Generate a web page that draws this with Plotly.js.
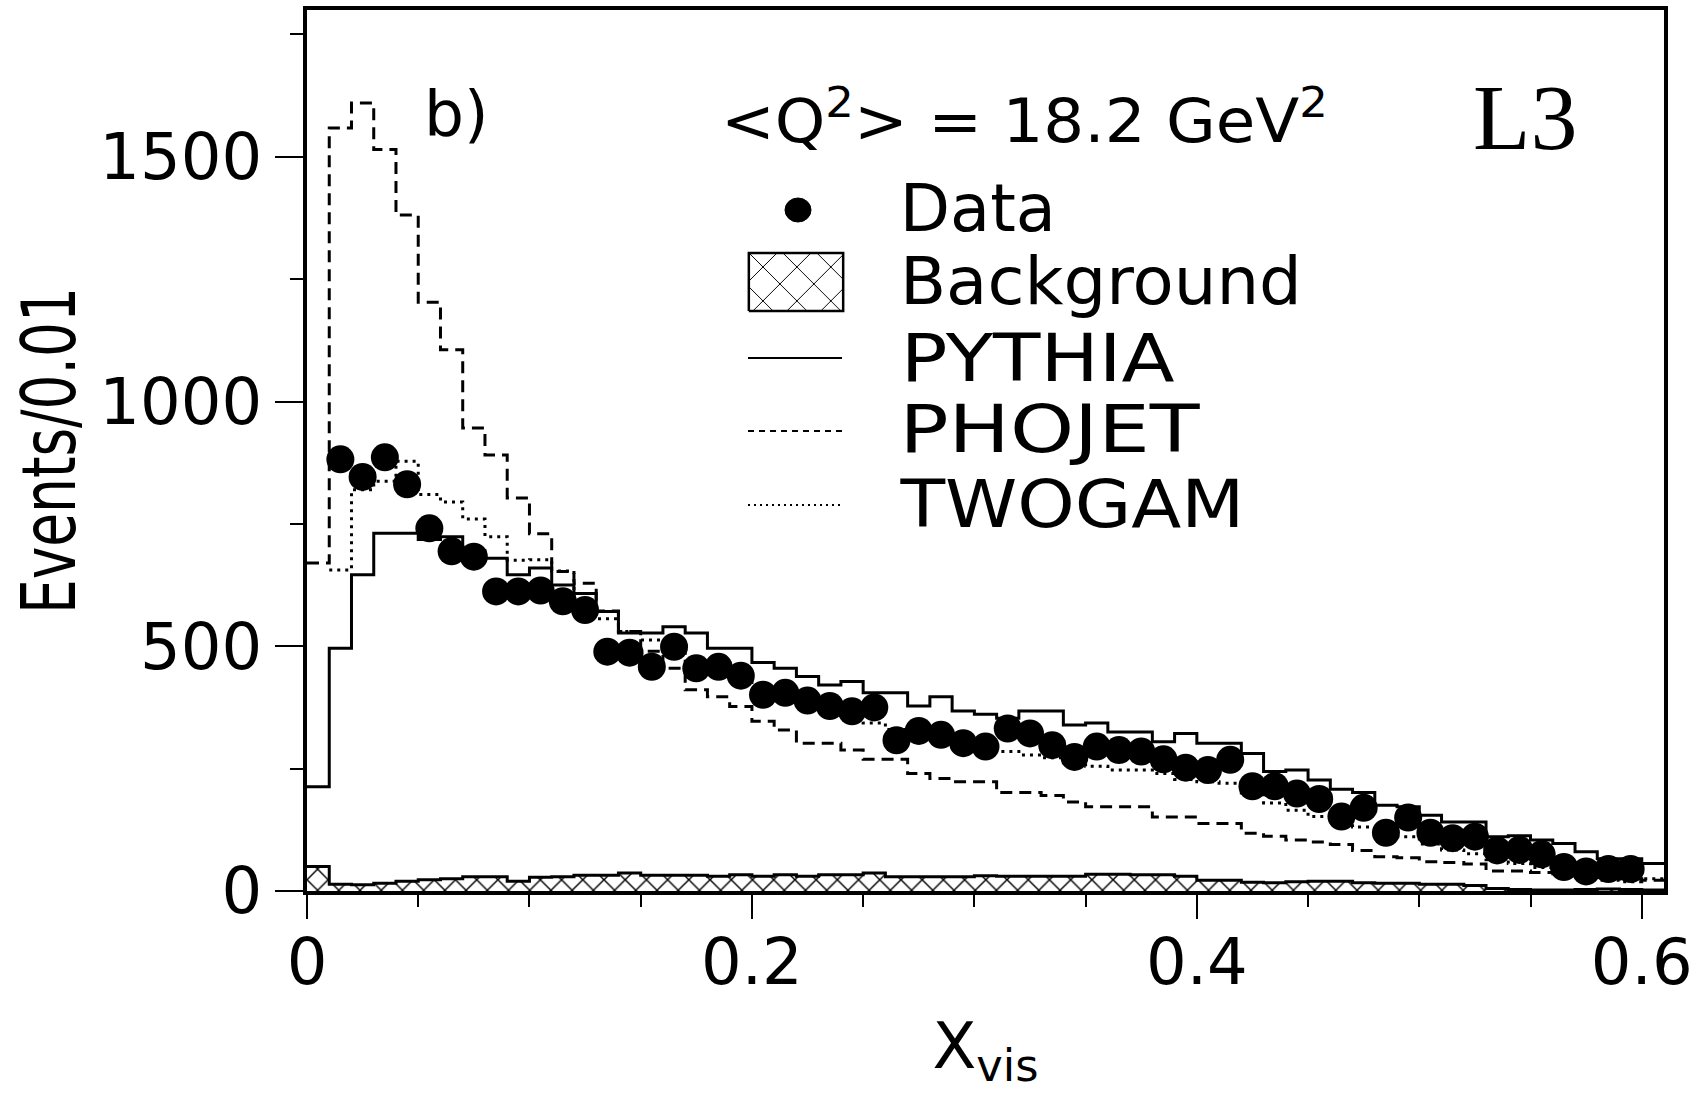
<!DOCTYPE html>
<html>
<head>
<meta charset="utf-8">
<script src="https://cdn.plot.ly/plotly-3.0.1.min.js"></script>
<style>
html,body{margin:0;padding:0;background:#fff;}
#chart{width:1700px;height:1093px;}
</style>
</head>
<body>
<div id="chart"></div>
<script>
// ---------- data (bins of width 0.01 in X_vis, from 0.00 to 0.61) ----------
const binWidth = 0.01;
const binLow = Array.from({length: 61}, (_, i) => +(i * binWidth).toFixed(2));
const xMax = 0.61;

// Data points, bins 0.01-0.02 ... 0.59-0.60 (bin 0 and last bin empty)
const dataEvents = [null,
  882, 846, 886, 831, 741, 694, 683, 612, 612, 614,
  592, 574, 489, 487, 458, 499, 455, 458, 440, 401,
  405, 389, 378, 367, 375, 308, 327, 319, 302, 295,
  332, 322, 298, 274, 295, 288, 285, 269, 252, 247,
  268, 214, 214, 199, 188, 152, 170, 119, 150, 119,
  108, 111, 83, 84, 75, 49, 40, 45, 45,
  null];

const pythia = [
  213, 496, 646, 731, 731, 718, 724, 695, 680, 646, 660,
  625, 608, 571, 527, 527, 540, 527, 496, 496, 467,
  455, 438, 421, 428, 405, 405, 378, 397, 368, 361,
  353, 368, 368, 339, 343, 325, 325, 305, 322, 302,
  302, 281, 244, 247, 227, 208, 201, 175, 172, 155,
  141, 141, 111, 113, 104, 97, 80, 66, 66, 56];

const phojet = [
  670, 1559, 1610, 1515, 1381, 1203, 1106, 946, 891, 803, 730,
  653, 629, 572, 530, 490, 455, 411, 397, 377, 347,
  329, 302, 302, 288, 269, 269, 240, 230, 223, 223,
  201, 201, 195, 182, 172, 172, 172, 151, 151, 138,
  138, 118, 112, 104, 100, 95, 83, 70, 68, 60,
  58, 55, 41, 41, 38, 35, 30, 28, 25, 22];

const twogam = [
  null, 656, 820, 837, 878, 810, 795, 760, 724, 676, 677,
  654, 591, 556, 530, 513, 490, 470, 455, 432, 410,
  398, 385, 370, 358, 343, 330, 320, 312, 300, 292,
  285, 278, 272, 262, 255, 247, 247, 240, 228, 223,
  220, 200, 180, 165, 152, 142, 131, 120, 111, 96,
  84, 76, 64, 56, 48, 40, 32, 22, 19, 25];

const background = [
  50, 14, 13, 16, 20, 23, 25, 29, 29, 20, 28,
  29, 32, 32, 37, 32, 32, 32, 30, 33, 30,
  33, 30, 33, 33, 37, 29, 29, 29, 29, 31,
  30, 30, 30, 30, 34, 34, 33, 33, 30, 22,
  22, 18, 17, 19, 20, 20, 17, 16, 16, 14,
  14, 11, 5, 3, 2, 2, 3, 4, 3, 2];

const xTickVals = [0, 0.2, 0.4, 0.6];
const xTickText = ['0', '0.2', '0.4', '0.6'];
const xMinorVals = [0.05, 0.1, 0.15, 0.25, 0.3, 0.35, 0.45, 0.5, 0.55];
const yTickVals = [0, 500, 1000, 1500];
const yTickText = ['0', '500', '1000', '1500'];
const yMinorVals = [250, 750, 1250, 1750];

const legendNames = ['Data', 'Background', 'PYTHIA', 'PHOJET', 'TWOGAM'];

// ---------- helpers ----------
const stepX = binLow.concat([xMax]);
const stepY = arr => arr.concat([arr[arr.length - 1]]);
const binCenters = binLow.map(v => +(v + binWidth / 2).toFixed(3));

// paper coordinates from pixel positions (plot area 307..1664 x 10..891)
const px = v => (v - 307) / 1357;
const py = v => (891 - v) / 881;

const FONT = 'DejaVu Sans, Liberation Sans, Arial, sans-serif';

const traces = [
  {
    name: legendNames[1], x: stepX, y: stepY(background), type: 'scatter', mode: 'lines',
    line: {shape: 'hv', color: '#000', width: 3},
    fill: 'tozeroy', fillcolor: '#fff',
    fillpattern: {shape: 'x', size: 15, solidity: 0.18, fgcolor: '#000', bgcolor: '#fff'},
    hoverinfo: 'skip'
  },
  {
    name: legendNames[2], x: stepX, y: stepY(pythia), type: 'scatter', mode: 'lines',
    line: {shape: 'hv', color: '#000', width: 3}, hoverinfo: 'skip'
  },
  {
    name: legendNames[3], x: stepX, y: stepY(phojet), type: 'scatter', mode: 'lines',
    line: {shape: 'hv', color: '#000', width: 3, dash: '12px,7px'}, hoverinfo: 'skip'
  },
  {
    name: legendNames[4], x: stepX, y: stepY(twogam), type: 'scatter', mode: 'lines',
    line: {shape: 'hv', color: '#000', width: 3, dash: '3px,5px'}, hoverinfo: 'skip'
  },
  {
    name: legendNames[0], x: binCenters, y: dataEvents, type: 'scatter', mode: 'markers',
    marker: {symbol: 'circle', size: 28, color: '#000'}, cliponaxis: false, hoverinfo: 'skip'
  },
  // hatched swatch for the Background legend entry (drawn in its own small box)
  {
    name: 'legend-swatch', x: [0, 1, 1, 0, 0], y: [0, 0, 1, 1, 0], xaxis: 'x2', yaxis: 'y2',
    type: 'scatter', mode: 'lines', fill: 'toself', fillcolor: '#fff',
    fillpattern: {shape: 'x', size: 24, solidity: 0.08, fgcolor: '#000', bgcolor: '#fff'},
    line: {color: '#000', width: 2.5}, hoverinfo: 'skip'
  }
];

// legend text: baselines (px) and target widths (px) as in the reference
const legendRows = [232, 305, 382, 453, 528];
const legendWidths = [156, 402, 274, 300, 344];
const legendLeft = 900;

const annotations = [
  {text: 'b)', x: px(423), y: py(151), xanchor: 'left', yanchor: 'bottom',
   font: {family: FONT, size: 63, color: '#000'}},
  {text: '&lt;Q<sup>2</sup>&gt; = 18.2 GeV<sup>2</sup>', x: px(1024), y: py(157), xanchor: 'center', yanchor: 'bottom',
   font: {family: FONT, size: 60, color: '#000'}, _len: 607},
  {text: 'L3', x: px(1525), y: py(170), xanchor: 'center', yanchor: 'bottom',
   font: {family: 'Liberation Serif, Times New Roman, serif', size: 94, color: '#000'}}
];
legendNames.forEach((n, i) => {
  annotations.push({text: n, x: px(legendLeft + legendWidths[i] / 2), y: py(legendRows[i] + 16),
    xanchor: 'center', yanchor: 'bottom',
    font: {family: FONT, size: 66, color: '#000'}, _len: legendWidths[i]});
});
const stretch = annotations.map(a => a._len || 0);
annotations.forEach(a => { delete a._len; a.xref = 'paper'; a.yref = 'paper'; a.showarrow = false; a.borderpad = 0; });

const glyphCenter = 210;
const shapes = [
  {type: 'circle', xref: 'paper', yref: 'paper', x0: px(785), x1: px(811), y0: py(glyphCenter + 12), y1: py(glyphCenter - 12),
   fillcolor: '#000', line: {color: '#000', width: 1}},
  {type: 'line', xref: 'paper', yref: 'paper', x0: px(748), x1: px(842), y0: py(358), y1: py(358),
   line: {color: '#000', width: 2}},
  {type: 'line', xref: 'paper', yref: 'paper', x0: px(748), x1: px(842), y0: py(431), y1: py(431),
   line: {color: '#000', width: 2, dash: '6px,5px'}},
  {type: 'line', xref: 'paper', yref: 'paper', x0: px(748), x1: px(842), y0: py(505), y1: py(505),
   line: {color: '#000', width: 2, dash: '2px,4px'}}
];

const axisCommon = {
  showline: true, linewidth: 4, linecolor: '#000', mirror: true,
  showgrid: false, zeroline: false, ticks: 'outside', tickcolor: '#000', tickwidth: 2,
  tickmode: 'array', fixedrange: true
};

const layout = {
  width: 1700, height: 1093,
  margin: {l: 307, r: 36, t: 10, b: 202, pad: 0},
  paper_bgcolor: '#fff', plot_bgcolor: '#fff',
  showlegend: false,
  font: {family: FONT, color: '#000'},
  xaxis: Object.assign({}, axisCommon, {
    range: [0, xMax], tickvals: xTickVals, ticktext: xTickText, ticklen: 24,
    ticklabelstandoff: -12,
    tickfont: {family: FONT, size: 64, color: '#000'},
    minor: {tickmode: 'array', tickvals: xMinorVals, ticks: 'outside', ticklen: 12, tickwidth: 2, tickcolor: '#000', showgrid: false},
    title: {text: 'X<sub>vis</sub>', font: {family: FONT, size: 64, color: '#000'}, standoff: 26},
    automargin: false
  }),
  yaxis: Object.assign({}, axisCommon, {
    range: [0, 1800], tickvals: yTickVals, ticktext: yTickText, ticklen: 28,
    tickfont: {family: FONT, size: 64, color: '#000'},
    minor: {tickmode: 'array', tickvals: yMinorVals, ticks: 'outside', ticklen: 13, tickwidth: 2, tickcolor: '#000', showgrid: false},
    title: {text: 'Events/0.01', font: {family: FONT, size: 74, color: '#000'}, standoff: 0},
    automargin: false
  }),
  xaxis2: {domain: [px(746), px(846)], range: [-0.03, 1.03], visible: false, anchor: 'y2', fixedrange: true},
  yaxis2: {domain: [py(314), py(250)], range: [-0.05, 1.05], visible: false, anchor: 'x2', fixedrange: true},
  annotations: annotations,
  shapes: shapes
};

Plotly.newPlot('chart', traces, layout, {displayModeBar: false, staticPlot: true}).then(gd => {
  // the reference lettering is wider / the axis title narrower than the installed fonts:
  // fit those texts to the lengths measured on the reference
  const fit = (el, len) => {
    if (!el || !len) return;
    el.setAttribute('textLength', len);
    el.setAttribute('lengthAdjust', 'spacingAndGlyphs');
  };
  fit(gd.querySelector('.g-ytitle text'), 327);
  const annTexts = gd.querySelectorAll('.annotation-text');
  annTexts.forEach((el, i) => fit(el, stretch[i]));
});
</script>
</body>
</html>
